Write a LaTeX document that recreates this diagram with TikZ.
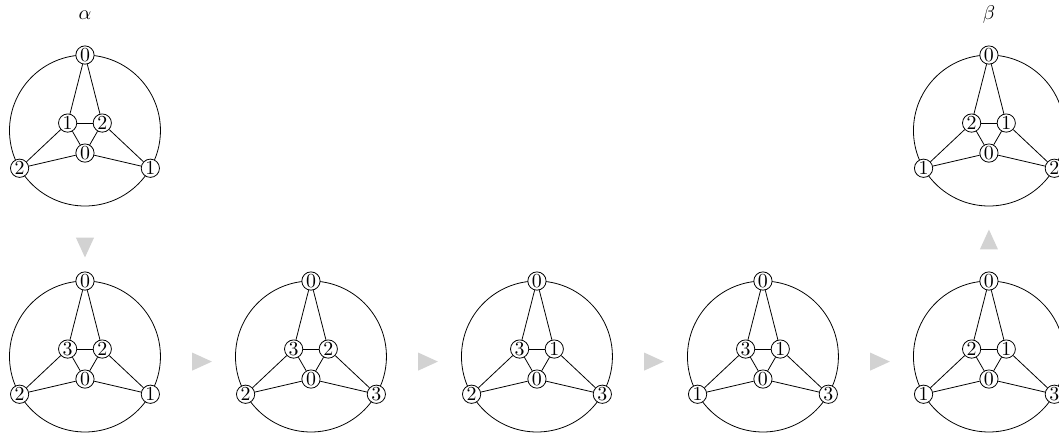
\documentclass[tikz,border=0pt]{standalone}
\usetikzlibrary{positioning,calc,shapes.geometric}
\definecolor{stepgray}{HTML}{D2D2D2}
\tikzset{
  vtx/.style={
    draw,
    circle,
    fill=white,
    inner sep=0pt,
    minimum size=9.2pt,
    font=\normalsize
  },
  rim/.style={draw, thin},
  edge/.style={thin},
  steptri/.style={
    isosceles triangle,
    isosceles triangle stretches,
    fill=stepgray,
    draw=none,
    inner sep=0pt,
    minimum width=0.32cm,
    minimum height=0.35cm
  },
  lbl/.style={font=\normalsize}
}
% one octahedron graph: name, centre, top, inner left, inner right, inner bottom, outer left, outer right
\newcommand{\octgraph}[8]{%
  \begin{scope}[shift={#2}]
    \coordinate (#1) at (0,0);
    \draw[rim] (#1) circle (1.336);
    \node[vtx] (#1-t) at (90:1.336) {#3};
    \node[vtx] (#1-l) at (210:1.336) {#7};
    \node[vtx] (#1-r) at (330:1.336) {#8};
    \begin{scope}[yshift=-0.45mm]
      \node[vtx] (#1-il) at (150:0.354) {#4};
      \node[vtx] (#1-ir) at (30:0.354) {#5};
      \node[vtx] (#1-ib) at (270:0.354) {#6};
    \end{scope}
    \draw[edge] (#1-t) -- (#1-il);
    \draw[edge] (#1-t) -- (#1-ir);
    \draw[edge] (#1-il) -- (#1-ir);
    \draw[edge] (#1-il) -- (#1-ib);
    \draw[edge] (#1-ir) -- (#1-ib);
    \draw[edge] (#1-l) -- (#1-il);
    \draw[edge] (#1-l) -- (#1-ib);
    \draw[edge] (#1-r) -- (#1-ir);
    \draw[edge] (#1-r) -- (#1-ib);
  \end{scope}}

\begin{document}
\begin{tikzpicture}
\useasboundingbox (-1.504,-5.39) rectangle (17.24,2.31);

% Start and target
\octgraph{ga}{(0,0)}{0}{1}{2}{0}{2}{1}
\octgraph{gb}{(16,0)}{0}{2}{1}{0}{1}{2}

% Bottom row
\octgraph{s1}{(0,-4)}{0}{3}{2}{0}{2}{1}
\octgraph{s2}{(4,-4)}{0}{3}{2}{0}{2}{3}
\octgraph{s3}{(8,-4)}{0}{3}{1}{0}{2}{3}
\octgraph{s4}{(12,-4)}{0}{3}{1}{0}{1}{3}
\octgraph{s5}{(16,-4)}{0}{2}{1}{0}{1}{3}

% Labels
\node[lbl] (alpha) at ([yshift=2.044cm]ga) {$\alpha$};
\node[lbl] (beta) at ([yshift=2.044cm]gb) {$\beta$};

% Steps
\node[steptri, rotate=-90] (m0) at ($(ga)!0.5!(s1)$) {};
\node[steptri, yshift=-0.9mm] (m1) at ($(s1)!0.5!(s2)$) {};
\node[steptri, yshift=-0.9mm] (m2) at ($(s2)!0.5!(s3)$) {};
\node[steptri, yshift=-0.9mm] (m3) at ($(s3)!0.5!(s4)$) {};
\node[steptri, yshift=-0.9mm] (m4) at ($(s4)!0.5!(s5)$) {};
\node[steptri, rotate=90] (m5) at ($(s5)!0.5!(gb)$) {};

\end{tikzpicture}
\end{document}
